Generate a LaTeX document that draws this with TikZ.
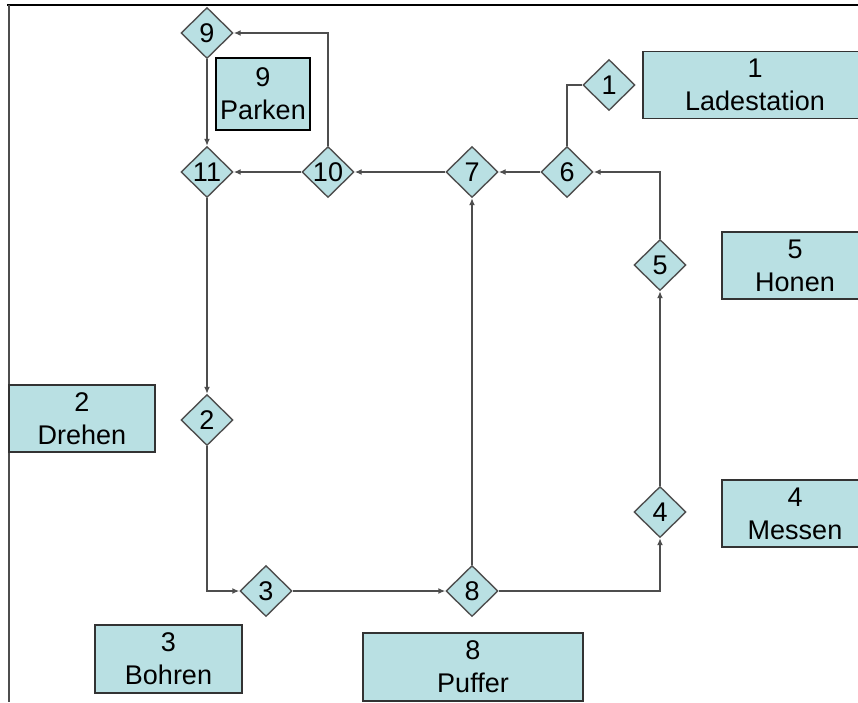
\documentclass[tikz,border=0pt]{standalone}
\usepackage{fontspec}
\setmainfont{Liberation Sans}
\usetikzlibrary{shapes.geometric,arrows.meta}
\definecolor{boxfill}{RGB}{185,224,227}
\definecolor{linegray}{RGB}{78,78,78}
\tikzset{
  stn/.style={diamond, draw=linegray, line width=1.4pt, fill=boxfill, inner sep=0pt,
    minimum width=52pt, minimum height=51pt, font=\fontsize{27}{30}\selectfont},
  lbl/.style={rectangle, draw=black!80, line width=1.4pt, fill=boxfill, inner sep=0pt,
    align=center, font=\fontsize{27}{33}\selectfont},
  conn/.style={draw=linegray, line width=1.8pt, -{Latex[length=7pt,width=6pt]}},
  plain/.style={draw=linegray, line width=1.8pt},
}
\begin{document}
\begin{tikzpicture}[x=1pt,y=-1pt]
\useasboundingbox (0,0) rectangle (858,702);
% frame
\draw[line width=1.5pt, black] (7,5) -- (858,5);
\draw[line width=2pt, linegray] (9,5) -- (9,702);
% label boxes
\node[lbl, minimum width=224pt, minimum height=67pt] (b1) at (755,85) {1\\Ladestation};
\node[lbl, minimum width=146pt, minimum height=67pt] (b5) at (795,265.5) {5\\Honen};
\node[lbl, minimum width=146pt, minimum height=67pt] (b4) at (795,513.5) {4\\Messen};
\node[lbl, minimum width=146pt, minimum height=67pt] (b2) at (82,418.5) {2\\Drehen};
\node[lbl, minimum width=147pt, minimum height=68pt] (b3) at (168.5,659) {3\\Bohren};
\node[lbl, minimum width=220pt, minimum height=68pt] (b8) at (473,667) {8\\Puffer};
\node[lbl, draw=black, line width=2.4pt, minimum width=94pt, minimum height=72pt] (b9) at (263,94) {9\\Parken};
% stations
\node[stn] (n9) at (207,33) {9};
\node[stn] (n11) at (207,172) {11};
\node[stn] (n10) at (328,172) {10};
\node[stn] (n7) at (472,172) {7};
\node[stn] (n6) at (567,172) {6};
\node[stn] (n1) at (609,85) {1};
\node[stn] (n5) at (660,265) {5};
\node[stn] (n4) at (660,512) {4};
\node[stn] (n2) at (207,420) {2};
\node[stn] (n3) at (266,591) {3};
\node[stn] (n8) at (472,591) {8};
% connectors
\draw[conn] (n11) -- (n2);
\draw[conn] (n2) |- (n3);
\draw[conn] (n3) -- (n8);
\draw[conn] (n8) -- (n7);
\draw[conn] (n8) -| (n4);
\draw[conn] (n4) -- (n5);
\draw[conn] (n5) |- (n6);
\draw[conn] (n6) -- (n7);
\draw[conn] (n7) -- (n10);
\draw[conn] (n10) -- (n11);
\draw[conn] (n10) |- (n9);
\draw[conn] (n9) -- (n11);
\draw[plain] (n6) |- (n1);
\end{tikzpicture}
\end{document}
